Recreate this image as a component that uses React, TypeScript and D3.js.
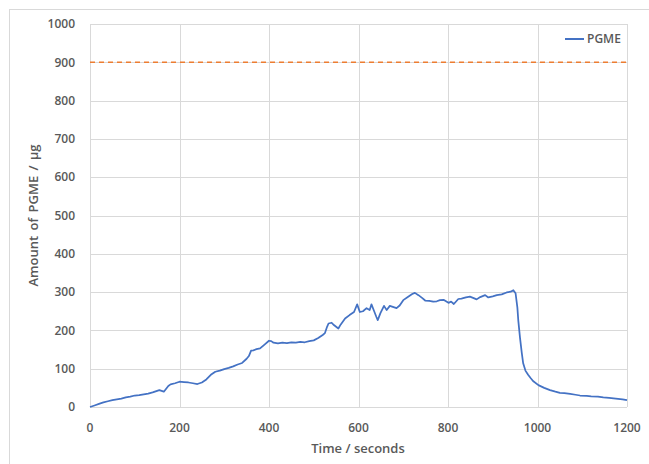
import React from "react";
import * as d3 from "d3";

const times = [0,10,20,30,40,50,60,70,80,90,100,110,120,130,140,150,155,165,175,180,190,200,210,220,230,240,250,260,270,280,290,300,310,320,330,340,350,355,360,365,372,380,390,400,405,410,420,430,440,450,460,470,480,490,500,510,520,525,530,533,540,545,555,560,570,580,590,597,603,610,618,625,629,635,640,643,649,657,663,670,680,685,692,700,711,720,726,734,742,749,758,767,775,782,790,801,807,813,823,830,840,849,856,864,872,883,890,900,909,920,931,940,946,951,955,957,961,965,968,973,979,985,990,1002,1015,1028,1040,1050,1060,1073,1085,1095,1110,1120,1135,1147,1160,1175,1190,1200];
const pgme = [0,4,8,12,15,18,20,22,25,27,30,31,33,35,38,42,44,40,55,59,62,66,65,64,62,60,64,72,84,92,95,99,102,106,111,115,126,133,147,148,151,153,163,173,172,168,166,168,167,169,168,170,169,172,174,180,188,193,210,218,220,214,205,215,231,240,248,268,248,250,258,253,268,250,235,227,245,264,253,264,260,258,265,279,288,295,298,292,285,278,277,275,276,279,280,272,275,269,282,283,286,288,285,281,287,292,286,289,292,294,299,301,305,297,260,227,180,140,114,95,84,75,68,57,50,44,40,37,36,34,32,30,29,28,27,25,24,22,20,18];
const limitValue = 900;
const xTicks = [0,200,400,600,800,1000,1200];
const yTicks = [0,100,200,300,400,500,600,700,800,900,1000];
const seriesName = "PGME";
const xTitle = "Time / seconds";
const yTitle = "Amount of PGME / µg";

export default function App() {
  const W = 649, H = 464;
  const left = 90, right = 627, top = 24, bottom = 407;
  const x = d3.scaleLinear().domain([0, 1200]).range([left, right]);
  const y = d3.scaleLinear().domain([0, 1000]).range([bottom, top]);
  const data = times.map((t, i) => [t, pgme[i]] as [number, number]);
  const line = d3.line<[number, number]>().x(d => x(d[0])).y(d => y(d[1]));
  const font = "'Open Sans', 'Liberation Sans', sans-serif";
  const txt = "#595959";
  return (
    <svg width={W} height={H} style={{ position: "absolute", left: 0, top: 0, background: "#fff" }} fontFamily={font}>
      <rect x={9.5} y={9.5} width={700} height={600} fill="none" stroke="#D9D9D9" strokeWidth={1} />
      {yTicks.map(v => (
        <line key={"gy" + v} x1={left} x2={right} y1={Math.round(y(v)) + 0.5} y2={Math.round(y(v)) + 0.5} stroke="#D9D9D9" strokeWidth={1} />
      ))}
      {xTicks.map(v => (
        <line key={"gx" + v} x1={Math.round(x(v)) + 0.5} x2={Math.round(x(v)) + 0.5} y1={top} y2={bottom} stroke="#D9D9D9" strokeWidth={1} />
      ))}
      <line x1={left} x2={right} y1={y(limitValue)} y2={y(limitValue)} stroke="#ED7D31" strokeWidth={1.5} strokeDasharray="5,4" />
      <path d={line(data) || ""} fill="none" stroke="#4472C4" strokeWidth={1.75} strokeLinejoin="round" />
      {yTicks.map(v => (
        <text key={"ty" + v} x={75} y={y(v)} dy="0.35em" textAnchor="end" fontSize={12} fontWeight={600} fill={txt}>{v}</text>
      ))}
      {xTicks.map(v => (
        <text key={"tx" + v} x={x(v)} y={428} dy="0.35em" textAnchor="middle" fontSize={12} fontWeight={600} fill={txt}>{v}</text>
      ))}
      <text x={358} y={448} dy="0.35em" textAnchor="middle" fontSize={13} fontWeight={600} fill={txt}>{xTitle}</text>
      <text transform={`translate(33,${(top + bottom) / 2}) rotate(-90)`} textAnchor="middle" dy="0.35em" fontSize={13} fontWeight={600} wordSpacing={2} fill={txt}>{yTitle}</text>
      <line x1={565} x2={584} y1={39} y2={39} stroke="#4472C4" strokeWidth={2} />
      <text x={587} y={39} dy="0.35em" fontSize={12} fontWeight={600} fill={txt}>{seriesName}</text>
    </svg>
  );
}
